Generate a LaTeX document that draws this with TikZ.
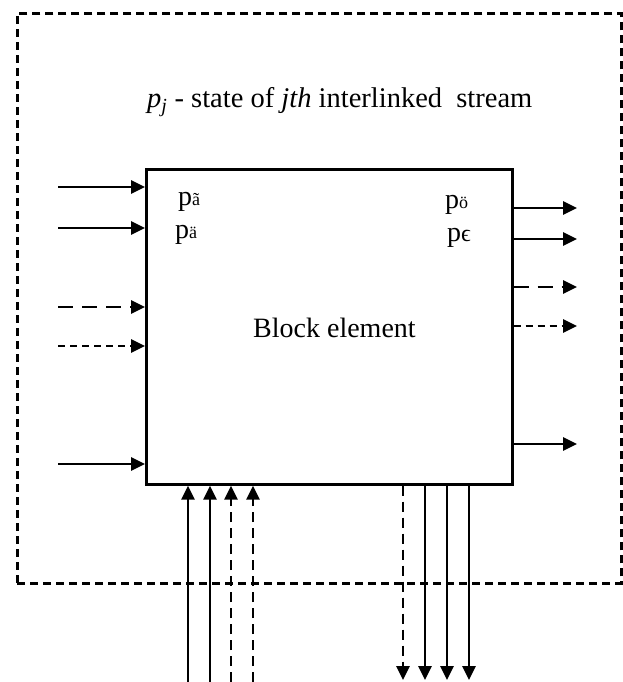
\documentclass[tikz,border=0pt]{standalone}
\usepackage{fontspec}
\setmainfont{Liberation Serif}
\usetikzlibrary{arrows.meta}
\tikzset{
  flow/.style={line width=2.6pt,-{Triangle[length=14pt,width=13pt]}},
  longdash/.style={dash pattern=on 15pt off 9pt},
  shortdash/.style={dash pattern=on 7pt off 5pt},
  vdash/.style={dash pattern=on 10pt off 6pt},
  lbl/.style={anchor=base west,inner sep=0pt,font=\fontsize{28}{32}\selectfont},
}
\newcommand{\smallacc}[1]{{\fontsize{18}{18}\selectfont #1}}
\begin{document}
\begin{tikzpicture}[x=1pt,y=-1pt]
\useasboundingbox (0,0) rectangle (623,682);
% outer dashed frame
\node (frame) [draw,line width=2.6pt,dash pattern=on 8pt off 5pt,inner sep=0pt,minimum width=604pt,minimum height=570pt,anchor=north west] at (16,12) {};
% block
\node (blk) [draw,line width=2.6pt,inner sep=0pt,minimum width=366pt,minimum height=315pt,anchor=north west] at (145,168) {};
% texts
\node (title) [lbl,font=\fontsize{28.5}{32}\selectfont] at (147,108) {\textit{p}\textsubscript{\textit{j}} - state of \textit{jth} interlinked\ \ stream};
\node (be) [lbl] at (253,337) {Block element};
\node (l1) [lbl] at (178,205) {p\smallacc{ã}};
\node (l2) [lbl] at (175,238) {p\smallacc{ä}};
\node (l3) [lbl] at (445,208) {p\smallacc{ö}};
\node (l4) [lbl] at (447,241) {p{\fontsize{24}{24}\selectfont ϵ}};
% left inputs
\foreach \y/\s [count=\i] in {187/solid,228/solid,307/longdash,346/shortdash,464/solid}{
  \coordinate (li\i) at (58,\y);
  \draw[flow,\s] (li\i) -- (blk.west |- li\i);
}
% right outputs
\foreach \y/\s [count=\i] in {208/solid,239/solid,287/longdash,326/shortdash,444/solid}{
  \coordinate (ro\i) at (577,\y);
  \draw[flow,\s] (blk.east |- ro\i) -- (ro\i);
}
% bottom inputs
\foreach \x/\s [count=\i] in {188/solid,210/solid,231/vdash,253/vdash}{
  \coordinate (bi\i) at (\x,682);
  \draw[flow,\s] (bi\i) -- (bi\i |- blk.south);
}
% bottom outputs
\foreach \x/\s [count=\i] in {403/vdash,425/solid,447/solid,469/solid}{
  \coordinate (bo\i) at (\x,680);
  \draw[flow,\s] (bo\i |- blk.south) -- (bo\i);
}
\end{tikzpicture}
\end{document}
